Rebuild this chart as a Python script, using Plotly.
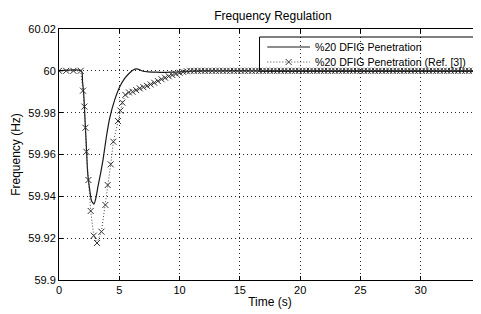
import plotly.graph_objects as go

# Solid line: %20 DFIG Penetration
t_sim = [0, 1.86, 1.95, 2.05, 2.16, 2.27, 2.38, 2.55, 2.69, 2.9, 3.05, 3.23, 3.45, 3.65,
         3.93, 4.2, 4.62, 5.04, 5.45, 5.87, 6.15, 6.42, 6.7, 6.97, 7.4, 7.8, 8.4, 8.9,
         9.5, 10, 11, 12, 35]
f_sim = [60.0, 60.0, 59.995, 59.989, 59.9765, 59.9637, 59.951, 59.943, 59.938, 59.9363,
         59.939, 59.9446, 59.951, 59.9574, 59.9685, 59.9773, 59.9861, 59.9924, 59.9964,
         59.9991, 60.0004, 60.0009, 60.0005, 59.9998, 59.9995, 59.9994, 59.9993, 59.9993,
         59.9994, 59.9995, 59.9998, 60.0, 60.0]

# Dotted line with x markers: %20 DFIG Penetration (Ref. [3])
t_ref = [0, 0.6, 1.2, 1.8, 1.99, 2.11, 2.19, 2.27, 2.44, 2.63, 2.88, 3.15, 3.52, 3.85,
         4.04, 4.29, 4.51, 4.89, 5.09, 5.26, 5.5, 5.8, 6.1, 6.4, 6.7, 7.0, 7.3, 7.6, 7.9,
         8.2, 8.5, 8.8, 9.1, 9.4, 9.7, 10.0, 10.3, 10.6, 10.9,
         11.2, 11.5, 11.8, 12.1, 12.4, 12.7, 13.0, 13.3, 13.6, 13.9, 14.2, 14.5, 14.8,
         15.1, 15.4, 15.7, 16.0, 16.3, 16.6, 16.9, 17.2, 17.5, 17.8, 18.1, 18.4, 18.7,
         19.0, 19.3, 19.6, 19.9, 20.2, 20.5, 20.8, 21.1, 21.4, 21.7, 22.0, 22.3, 22.6,
         22.9, 23.2, 23.5, 23.8, 24.1, 24.4, 24.7, 25.0, 25.3, 25.6, 25.9, 26.2, 26.5,
         26.8, 27.1, 27.4, 27.7, 28.0, 28.3, 28.6, 28.9, 29.2, 29.5, 29.8, 30.1, 30.4,
         30.7, 31.0, 31.3, 31.6, 31.9, 32.2, 32.5, 32.8, 33.1, 33.4, 33.7, 34.0, 34.3,
         34.6, 34.9]
f_ref = [60.0, 60.0, 60.0, 60.0, 59.9905, 59.9829, 59.9728, 59.9613, 59.9478, 59.933,
         59.9212, 59.9177, 59.9231, 59.9359, 59.9454, 59.9553, 59.9661, 59.976, 59.981,
         59.9848, 59.9885, 59.9897, 59.99, 59.9908, 59.9916, 59.9922, 59.9928, 59.9935,
         59.9943, 59.9951, 59.996, 59.9967, 59.9974, 59.998, 59.9986, 59.9991, 59.9995,
         59.9998, 60.0,
         60.0, 60.0, 60.0, 60.0, 60.0, 60.0, 60.0, 60.0, 60.0, 60.0, 60.0, 60.0, 60.0,
         60.0, 60.0, 60.0, 60.0, 60.0, 60.0, 60.0, 60.0, 60.0, 60.0, 60.0, 60.0, 60.0,
         60.0, 60.0, 60.0, 60.0, 60.0, 60.0, 60.0, 60.0, 60.0, 60.0, 60.0, 60.0, 60.0,
         60.0, 60.0, 60.0, 60.0, 60.0, 60.0, 60.0, 60.0, 60.0, 60.0, 60.0, 60.0, 60.0,
         60.0, 60.0, 60.0, 60.0, 60.0, 60.0, 60.0, 60.0, 60.0, 60.0, 60.0, 60.0, 60.0,
         60.0, 60.0, 60.0, 60.0, 60.0, 60.0, 60.0, 60.0, 60.0, 60.0, 60.0, 60.0, 60.0,
         60.0, 60.0]

series_names = ["%20 DFIG Penetration", "%20 DFIG Penetration (Ref. [3])"]

x_ticks = [0, 5, 10, 15, 20, 25, 30, 35]
x_labels = ["0", "5", "10", "15", "20", "25", "30", "35"]
y_ticks = [59.9, 59.92, 59.94, 59.96, 59.98, 60.0, 60.02]
y_labels = ["59.9", "59.92", "59.94", "59.96", "59.98", "60", "60.02"]

font = "Liberation Sans, Arial, sans-serif"
ink = "#333333"

fig = go.Figure()
fig.add_trace(go.Scatter(
    x=t_sim, y=f_sim, mode="lines", name=series_names[0], showlegend=False,
    line=dict(color="#1a1a1a", width=1.2, shape="spline", smoothing=0.6)))
fig.add_trace(go.Scatter(
    x=t_ref, y=f_ref, mode="lines+markers", name=series_names[1], showlegend=False,
    line=dict(color="#444444", width=1, dash="1px,2px"),
    marker=dict(symbol="x-thin-open", size=6, color=ink,
                line=dict(color=ink, width=1))))

# MATLAB-style legend box (paper coordinates), compact like the original
lg_x0, lg_x1, lg_y0, lg_y1 = 0.4751, 0.9870, 0.8307, 0.9681
row_y = [0.9283, 0.8685]
smp_x0, smp_x1, smp_xc = 0.4936, 0.5948, 0.5442
txt_x = 0.6026
mdx, mdy = 0.0071, 0.012

shapes = [
    dict(type="rect", xref="paper", yref="paper", x0=lg_x0, x1=lg_x1, y0=lg_y0, y1=lg_y1,
         fillcolor="white", line=dict(color="black", width=1), layer="between"),
    dict(type="line", xref="paper", yref="paper", x0=smp_x0, x1=smp_x1, y0=row_y[0], y1=row_y[0],
         line=dict(color="#1a1a1a", width=1.2), layer="above"),
    dict(type="line", xref="paper", yref="paper", x0=smp_x0, x1=smp_x1, y0=row_y[1], y1=row_y[1],
         line=dict(color="#444444", width=1, dash="1px,2px"), layer="above"),
    dict(type="path", xref="paper", yref="paper",
         path=(f"M {smp_xc - mdx},{row_y[1] - mdy} L {smp_xc + mdx},{row_y[1] + mdy} "
               f"M {smp_xc - mdx},{row_y[1] + mdy} L {smp_xc + mdx},{row_y[1] - mdy}"),
         line=dict(color=ink, width=1), layer="above"),
]
annotations = [
    dict(xref="paper", yref="paper", x=txt_x, y=row_y[i], xanchor="left", yanchor="middle",
         text=series_names[i], showarrow=False,
         font=dict(family=font, size=10.6, color="black"))
    for i in range(2)
]

axis_common = dict(
    showline=True, linecolor="black", linewidth=1, mirror="ticks",
    ticks="inside", ticklen=4, tickcolor="black",
    showgrid=True, gridcolor="rgba(0,0,0,0.85)", gridwidth=1, griddash="1px,3px",
    zeroline=False, automargin=False, ticklabeloverflow="allow",
    tickfont=dict(family=font, size=11, color="black"),
)

# The page body has an 8px default margin, so the figure is sized to fit the window.
fig.update_layout(
    width=473, height=306,
    margin=dict(l=51, r=0, t=21, b=34),
    paper_bgcolor="white", plot_bgcolor="white",
    font=dict(family=font, size=11, color="black"),
    title=dict(text="Frequency Regulation", x=0.56, xanchor="center",
               y=0.974, yanchor="middle", font=dict(family=font, size=12, color="black")),
    xaxis=dict(range=[0, 35.0], tickvals=x_ticks, ticktext=x_labels,
               title=dict(text="Time (s)", standoff=2,
                          font=dict(family=font, size=12, color="black")),
               **axis_common),
    yaxis=dict(range=[59.9, 60.02], tickvals=y_ticks, ticktext=y_labels,
               title=dict(text="Frequency (Hz)", standoff=5,
                          font=dict(family=font, size=12, color="black")),
               **axis_common),
    shapes=shapes,
    annotations=annotations,
    showlegend=False,
)

fig.write_html("out.html")
